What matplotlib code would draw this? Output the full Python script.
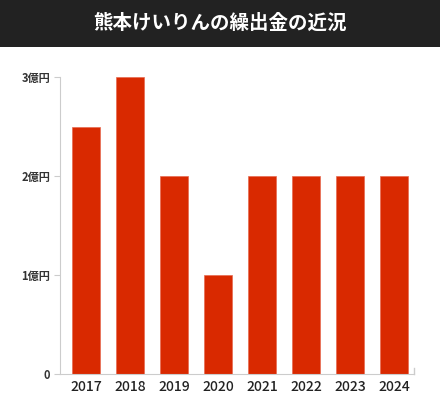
import matplotlib
matplotlib.use('Agg')
import matplotlib.pyplot as plt
from matplotlib.patches import Rectangle

plt.rcParams['font.family'] = ['Noto Sans CJK JP', 'DejaVu Sans']

# データ
years = ['2017', '2018', '2019', '2020', '2021', '2022', '2023', '2024']
values = [2.5, 3.0, 2.0, 1.0, 2.0, 2.0, 2.0, 2.0]  # 億円
y_ticks = [0, 1, 2, 3]
y_labels = ['0', '1億円', '2億円', '3億円']
title = '熊本けいりんの繰出金の近況'

fig = plt.figure(figsize=(4.4, 4.2), dpi=100)
fig.patch.set_facecolor('white')

# タイトル帯
fig.patches.append(Rectangle((0, 1 - 47 / 420), 1, 47 / 420, transform=fig.transFigure,
                             facecolor='#222222', edgecolor='none', zorder=0))
fig.text(0.5, 1 - 23 / 420, title, color='white', fontsize=14, fontweight='bold',
         ha='center', va='center')

ax = fig.add_axes([60 / 440, 46 / 420, 354 / 440, 297 / 420])
x = list(range(len(years)))
ax.bar(x, values, width=0.64, color='#d92900', edgecolor='#e86a50', linewidth=0.5, zorder=2)

ax.set_xlim(-0.59, 7.45)
ax.set_ylim(0, 3)
ax.set_yticks(y_ticks)
ax.set_yticklabels(y_labels, fontsize=8, fontweight='bold', color='#333333')
ax.set_xticks(x)
ax.set_xticklabels(years, fontsize=10, fontweight='medium', color='#222222')

for s in ['top', 'right']:
    ax.spines[s].set_visible(False)
ax.spines['left'].set_color('#cccccc')
ax.spines['bottom'].set_color('#cccccc')
ax.tick_params(axis='y', length=4, color='#cccccc', pad=3)
ax.tick_params(axis='x', length=0, pad=4)
ax.axvline(7.45, ymin=0, ymax=0.02, color='#cccccc', linewidth=1, clip_on=False)

fig.savefig('out.png', dpi=100)
